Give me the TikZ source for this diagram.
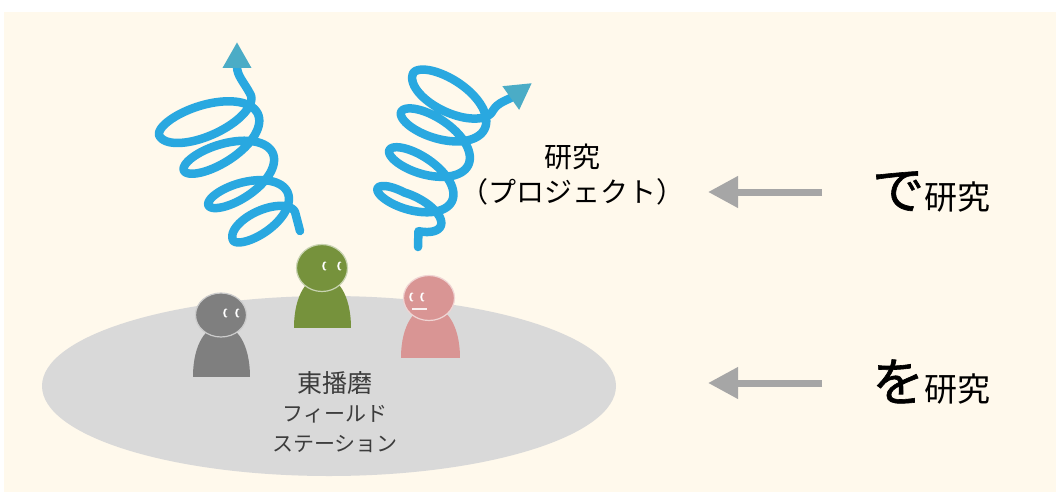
\documentclass[tikz,border=0pt]{standalone}
\usepackage{fontspec}
\setmainfont{Noto Sans CJK JP}
\usetikzlibrary{arrows.meta}
\usetikzlibrary{shapes.geometric}
\definecolor{paper}{RGB}{255,249,236}
\definecolor{field}{RGB}{217,217,217}
\definecolor{spring}{RGB}{41,168,224}
\definecolor{springtip}{RGB}{75,172,198}
\definecolor{pointergray}{RGB}{166,166,166}
\definecolor{ink}{RGB}{60,60,60}
\definecolor{grayman}{RGB}{127,127,127}
\definecolor{greenman}{RGB}{118,146,60}
\definecolor{pinkman}{RGB}{217,149,148}

\begin{document}
\begin{tikzpicture}[x=1pt, y=-1pt,
	declare function={lc(\t)=min(max(\t/360,0.5),3.5); rc(\t)=min(max(\t/360,0.3),3.5);},
	coil/.style={spring, line width=8.5pt, line cap=round, line join=round, -{Triangle[length=26pt,width=27pt,color=springtip]}},
	pointer/.style={pointergray, line width=7pt, -{Triangle[length=30pt,width=30pt]}},
	headshape/.style={ellipse, fill=#1, draw=#1!40!white, line width=1.2pt, inner sep=0pt, minimum width=51pt, minimum height=44pt}]
	\useasboundingbox (0,0) rectangle (1056,492);
	\fill[paper] (4,12) rectangle (1056,492);
	\fill[field] (329,386) ellipse [x radius=287, y radius=90];

	% people
	\fill[grayman] (193,377) .. controls (193,308) and (250,308) .. (250,377) -- cycle;
	\fill[greenman] (294,328) .. controls (294,259) and (351,259) .. (351,328) -- cycle;
	\fill[pinkman] (401,358) .. controls (401,289) and (460,289) .. (460,358) -- cycle;
	\node[headshape=grayman] (g) at (221,315) {};
	\node[headshape=greenman, minimum height=47pt] (m) at (322,268) {};
	\node[headshape=pinkman, minimum height=45pt] (p) at (429,298) {};
	\foreach \h/\dx/\dy/\c in {g/5/-2/grayman, g/17/-2/grayman, m/3/-2/greenman, m/18/-2/greenman, p/-17/-1/pinkman, p/-6/-1/pinkman} {
		\fill[white] ([shift={(\dx,\dy)}]\h.center) ellipse [x radius=2.7, y radius=4.6];
		\fill[\c] ([shift={(\dx+1.3,\dy)}]\h.center) ellipse [x radius=2.1, y radius=3.8];
	}
	\draw[white!85!pinkman, line width=1.5pt] ([shift={(-17,11)}]p.center) -- ([shift={(-2,11)}]p.center);

	\node[font=\fontsize{21}{29.5}\selectfont, text=ink, align=center] (fs) at (335,412)
		{{\fontsize{25}{29.5}\selectfont 東播磨}\\フィールド\\ステーション};

	% springs
	\coordinate (lb) at (300,231);
	\coordinate (lt) at (237,42);
	\coordinate (rb) at (418,247);
	\coordinate (rt) at (532,83);
	\draw[coil] (lb) -- plot[variable=\t, domain=0:1440, samples=361]
		({264-19.7*(lc(\t)-0.5)+(34+5.33*(lc(\t)-0.5))*cos(\t)*0.914-(16+1.67*(lc(\t)-0.5))*sin(\t)*0.407},
		 {226-37*(lc(\t)-0.5)-(34+5.33*(lc(\t)-0.5))*cos(\t)*0.407-(16+1.67*(lc(\t)-0.5))*sin(\t)*0.914})
		.. controls (244,82) and (237,76) .. (lt);
	\draw[coil] (rb) -- plot[variable=\t, domain=-60:1440, samples=376]
		({408+14.06*(rc(\t)-0.3)+(36+2.5*(rc(\t)-0.3))*cos(\t)*0.906+(16+1.56*(rc(\t)-0.3))*sin(\t)*0.423},
		 {211-37.19*(rc(\t)-0.3)+(36+2.5*(rc(\t)-0.3))*cos(\t)*0.423-(16+1.56*(rc(\t)-0.3))*sin(\t)*0.906})
		.. controls (498,102) and (508,100) .. (rt);

	% labels on the right
	\node[font=\fontsize{28}{35}\selectfont, align=center] (proj) at (572,175) {研究\\（プロジェクト）};
	\node[anchor=base west, inner sep=0pt] (de) at (872,209)
		{{\fontsize{52}{52}\selectfont\addfontfeatures{FakeBold=1.2}で}\fontsize{33}{33}\selectfont 研究};
	\node[anchor=base west, inner sep=0pt] (wo) at (872,401)
		{{\fontsize{52}{52}\selectfont\addfontfeatures{FakeBold=1.2}を}\fontsize{33}{33}\selectfont 研究};
	\coordinate (a1) at (822,192);
	\coordinate (b1) at (708,192);
	\coordinate (a2) at (822,383);
	\coordinate (b2) at (708,383);
	\draw[pointer] (a1) -- (b1);
	\draw[pointer] (a2) -- (b2);
\end{tikzpicture}
\end{document}
